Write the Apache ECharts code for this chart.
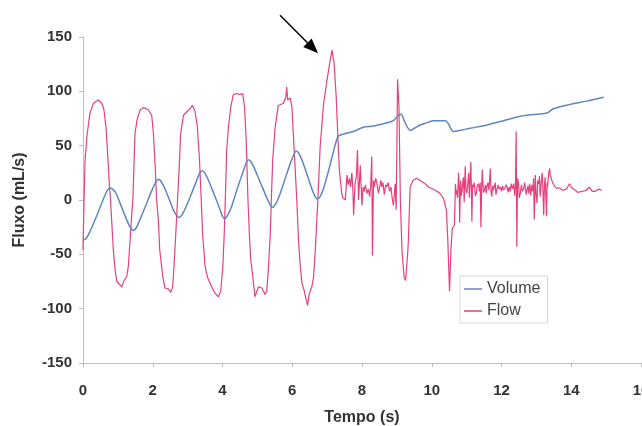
<!DOCTYPE html>
<html>
<head>
<meta charset="utf-8">
<script src="https://cdn.jsdelivr.net/npm/echarts@6/dist/echarts.min.js"></script>
<style>
html,body{margin:0;padding:0;background:#fff;}
#chart{width:642px;height:426px;}
</style>
</head>
<body>
<div id="chart"></div>
<script>
// ---- data (time in s, value) ----
const seriesNames = ["Volume", "Flow"];
const xTicks = [0, 2, 4, 6, 8, 10, 12, 14, 16];
const yTicks = [-150, -100, -50, 0, 50, 100, 150];

const volumeData = [
  [0,-37],[0.1,-35],[0.2,-29],[0.4,-14],[0.6,2],[0.7,9],[0.77,11],
  [0.85,10],[0.95,6],[1.1,-6],[1.25,-18],[1.35,-25],[1.44,-28],
  [1.52,-26],[1.62,-19],[1.8,-5],[1.95,7],[2.08,16],[2.16,19],
  [2.24,17],[2.34,11],[2.48,0],[2.62,-11],[2.75,-16],
  [2.83,-14],[2.93,-8],[3.1,5],[3.26,18],[3.35,25],[3.41,27],
  [3.49,25],[3.6,18],[3.75,6],[3.92,-8],[4.0,-15],[4.05,-17],
  [4.13,-15],[4.25,-7],[4.42,10],[4.6,27],[4.68,34],[4.74,37],
  [4.82,35],[4.93,28],[5.1,15],[5.27,2],[5.36,-4],[5.42,-7],
  [5.5,-5],[5.62,3],[5.8,20],[5.97,36],[6.05,42],[6.11,45],
  [6.19,43],[6.3,35],[6.45,21],[6.6,7],[6.68,2],[6.72,1],
  [6.8,3],[6.9,11],[7.05,28],[7.2,47],[7.28,56],[7.33,59],
  [7.5,61],[7.76,63],[8.04,67],[8.33,68],[8.71,71],[8.9,73],[9.05,78],[9.12,79],
  [9.2,74],[9.3,67],[9.38,64],[9.5,66],[9.67,69],[9.85,71],[10.05,73],[10.39,73],
  [10.48,70],[10.56,65],[10.63,63],[10.8,64],[11.1,66],[11.58,69],[12.06,73],
  [12.54,77],[13.0,79],[13.3,80],[13.49,84],[13.97,88],[14.45,91],[14.93,94.5]
];

const flowData = [
  [0,-46],[0.03,0],[0.06,37],[0.12,61],[0.2,80],[0.3,89],[0.44,92],[0.54,89],
  [0.6,83],[0.66,67],[0.7,46],[0.76,12],[0.79,0],
  [0.82,-18],[0.87,-46],[0.92,-64],[0.97,-75],[1.06,-78],[1.11,-80],[1.18,-74],
  [1.25,-71],[1.3,-61],[1.35,-37],[1.4,-12],[1.43,0],
  [1.46,30],[1.49,61],[1.55,74],[1.64,83],[1.73,85],[1.87,83],[1.97,78],
  [2.02,61],[2.07,31],[2.11,0],
  [2.16,-18],[2.2,-46],[2.29,-71],[2.35,-81],[2.45,-82],[2.52,-85],[2.57,-80],
  [2.61,-61],[2.66,-31],[2.71,0],
  [2.76,31],[2.8,61],[2.88,78],[2.97,81],[3.07,84],[3.14,87],[3.21,82],
  [3.28,67],[3.34,37],[3.39,0],
  [3.43,-31],[3.5,-61],[3.57,-71],[3.69,-80],[3.79,-86],[3.88,-89],[3.95,-84],
  [4.01,-61],[4.05,-31],[4.08,0],
  [4.12,46],[4.17,67],[4.24,86],[4.31,97],[4.41,98],[4.5,97],[4.58,98],
  [4.63,86],[4.68,55],[4.73,0],
  [4.77,-31],[4.81,-55],[4.87,-71],[4.93,-89],[5.03,-80],[5.13,-81],[5.22,-87],
  [5.27,-84],[5.32,-61],[5.37,-31],[5.4,0],
  [5.44,37],[5.51,67],[5.6,87],[5.75,89],[5.82,95],[5.84,104],[5.87,92],
  [5.94,94],[5.99,86],[6.03,61],[6.08,31],[6.13,0],
  [6.18,-37],[6.23,-61],[6.28,-77],[6.34,-83],[6.4,-92],[6.44,-97],[6.49,-86],
  [6.56,-80],[6.61,-71],[6.66,-46],[6.71,-15],[6.73,-3],
  [6.8,49],[6.9,89],[7.01,113],[7.09,129],[7.14,138],[7.2,126],[7.26,95],
  [7.3,64],[7.35,28],[7.42,6],[7.45,2],
  [7.52,0],[7.57,23],[7.6,14],[7.64,20],[7.67,12],[7.71,25],[7.74,8],[7.76,-14],[7.8,15],
  [7.84,22],[7.87,46],[7.9,0],[7.93,18],[7.95,32],[7.98,10],[8.0,-5],[8.03,12],[8.06,8],
  [8.1,14],[8.14,6],[8.18,10],[8.22,3],[8.25,14],[8.28,40],[8.3,-51],[8.33,18],[8.35,12],
  [8.39,20],[8.43,15],[8.47,6],[8.5,11],[8.54,18],[8.57,12],[8.6,16],[8.64,5],[8.68,14],
  [8.71,12],[8.75,16],[8.79,8],[8.83,12],[8.86,3],[8.9,-5],
  [8.95,15],[8.98,-9],[9.02,111],[9.06,86],[9.1,0],[9.15,-49],[9.21,-71],
  [9.25,-74],[9.31,-49],[9.33,-37],[9.38,12],[9.46,18],[9.56,20],[9.67,18],
  [9.81,15],[9.91,12],[9.96,12],[10.1,9],[10.24,6],[10.34,1],[10.42,-9],
  [10.46,-37],[10.51,-84],[10.55,-46],[10.59,-26],[10.65,-23],
  [10.68,15],[10.7,5],[10.72,9],[10.74,2],[10.77,25],[10.79,8],[10.8,-21],[10.82,10],
  [10.83,18],[10.85,4],[10.87,9],[10.89,16],[10.91,21],[10.93,-2],[10.96,31],[10.98,10],
  [11.01,6],[11.03,14],[11.06,25],[11.08,2],[11.1,18],[11.12,35],[11.14,5],[11.15,-20],
  [11.17,14],[11.2,12],[11.22,16],[11.25,4],[11.28,6],[11.3,13],[11.34,15],[11.37,8],
  [11.39,16],[11.41,-25],[11.43,10],[11.45,28],[11.48,7],[11.51,9],[11.54,14],[11.56,6],
  [11.58,12],[11.61,16],[11.64,9],[11.68,29],[11.7,8],[11.72,3],[11.75,13],[11.77,9],
  [11.79,12],[11.82,16],[11.84,5],[11.87,6],[11.9,14],[11.93,10],[11.97,12],[12.0,8],
  [12.03,13],[12.06,9],[12.1,11],[12.13,14],[12.16,12],[12.19,7],[12.22,12],[12.25,8],
  [12.28,15],[12.31,10],[12.35,15],[12.38,4],[12.4,14],[12.42,63],[12.44,-43],[12.46,20],
  [12.49,15],[12.51,2],[12.54,6],[12.57,14],[12.6,8],[12.64,11],[12.66,16],[12.68,12],
  [12.71,5],[12.73,9],[12.76,13],[12.78,6],[12.81,15],[12.84,4],[12.87,14],[12.9,8],
  [12.92,20],[12.94,-18],[12.97,23],[12.99,6],[13.02,-3],[13.04,18],[13.07,15],[13.09,22],
  [13.11,3],[13.14,16],[13.17,25],[13.19,8],[13.21,-14],[13.23,12],[13.25,21],[13.27,6],
  [13.29,-15],[13.31,16],[13.32,12],[13.35,24],[13.38,29],[13.4,22],[13.43,20],[13.46,16],
  [13.5,14],[13.57,11],[13.67,11],[13.76,9],[13.86,10],[13.95,15],[14.02,11],[14.12,9],
  [14.18,7],[14.31,8],[14.43,9],[14.52,12],[14.6,8],[14.69,8],[14.79,10],[14.88,9]
];

// arrow annotation (data coordinates: tail, head)
const arrowTail = [5.65, 170];
const arrowHead = [6.74, 135];

const FONT = "'Liberation Sans', Arial, sans-serif";
const chart = echarts.init(document.getElementById('chart'), null, {renderer: 'canvas'});

chart.setOption({
  animation: false,
  backgroundColor: '#ffffff',
  grid: {left: 83, right: 1, top: 37, bottom: 63, containLabel: false, outerBoundsMode: 'none'},
  xAxis: {
    type: 'value', min: xTicks[0], max: xTicks[xTicks.length - 1], interval: 2,
    name: 'Tempo (s)', nameLocation: 'middle', nameGap: 47,
    nameTextStyle: {fontFamily: FONT, fontWeight: 'bold', fontSize: 16, color: '#333'},
    axisLine: {show: true, onZero: false, lineStyle: {color: '#bdbdbd', width: 1}},
    axisTick: {show: true, inside: false, length: 4, lineStyle: {color: '#bdbdbd'}},
    axisLabel: {fontFamily: FONT, fontWeight: 'bold', fontSize: 15, color: '#333', margin: 20,
      showMaxLabel: true, showMinLabel: true, alignMaxLabel: 'center', hideOverlap: false},
    splitLine: {show: false}
  },
  yAxis: {
    type: 'value', min: yTicks[0], max: yTicks[yTicks.length - 1], interval: 50,
    name: 'Fluxo (mL/s)', nameLocation: 'middle', nameGap: 55, nameRotate: 90,
    nameTextStyle: {fontFamily: FONT, fontWeight: 'bold', fontSize: 16, color: '#333'},
    axisLine: {show: true, onZero: false, lineStyle: {color: '#bdbdbd', width: 1}},
    axisTick: {show: true, inside: false, length: 4, lineStyle: {color: '#bdbdbd'}},
    axisLabel: {fontFamily: FONT, fontWeight: 'bold', fontSize: 15, color: '#333', margin: 11},
    splitLine: {show: false}
  },
  legend: {
    orient: 'vertical', left: 460, top: 276,
    data: seriesNames, icon: 'rect',
    backgroundColor: '#fff', borderColor: '#d6d6d6', borderWidth: 1,
    padding: [5, 7, 4, 4], itemGap: 6, itemWidth: 18, itemHeight: 2,
    textStyle: {fontFamily: FONT, fontSize: 16, color: '#444'}
  },
  series: [
    {
      name: seriesNames[0], type: 'line', data: volumeData, symbol: 'none',
      smooth: 0.3, z: 3,
      lineStyle: {color: '#5f86c2', width: 1.5}, itemStyle: {color: '#8aa3d2'}
    },
    {
      name: seriesNames[1], type: 'line', data: flowData, symbol: 'none',
      z: 2,
      lineStyle: {color: '#e6407e', width: 1.2}, itemStyle: {color: '#ec6d98'}
    }
  ]
});

// arrow annotation positioned via the chart's own coordinate conversion
const p0 = chart.convertToPixel({gridIndex: 0}, arrowTail);
const p1 = chart.convertToPixel({gridIndex: 0}, arrowHead);
const ang = Math.atan2(p1[1] - p0[1], p1[0] - p0[0]);
const L = 15, W = 6;
const bx = p1[0] - L * Math.cos(ang), by = p1[1] - L * Math.sin(ang);
const nx = -Math.sin(ang), ny = Math.cos(ang);
chart.setOption({
  graphic: [
    {type: 'line', shape: {x1: p0[0], y1: p0[1], x2: bx, y2: by},
     style: {stroke: '#000', lineWidth: 1.5}, z: 10},
    {type: 'polygon', shape: {points: [[p1[0], p1[1]], [bx + nx * W, by + ny * W], [bx - nx * W, by - ny * W]]},
     style: {fill: '#000'}, z: 10}
  ]
});
</script>
</body>
</html>
